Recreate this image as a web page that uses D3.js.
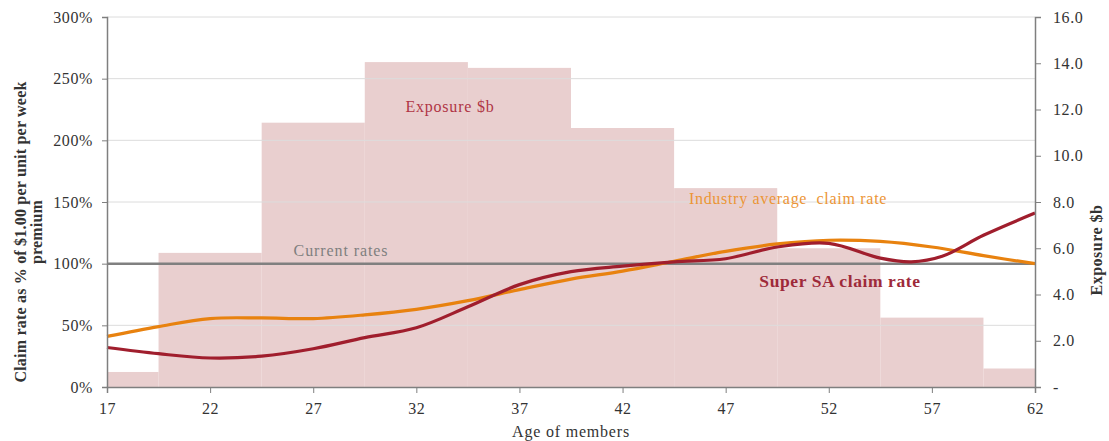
<!DOCTYPE html>
<html>
<head>
<meta charset="utf-8">
<script src="https://cdn.jsdelivr.net/npm/d3@7"></script>
<style>
  html, body { margin: 0; padding: 0; background: #fff; }
  svg { display: block; font-family: "Liberation Serif", "DejaVu Serif", serif; }
</style>
</head>
<body>
<svg id="chart" width="1109" height="441"></svg>
<script>
// Exposure ($b) by 5-year age band, centred on each tick age
const bandAges = [17, 22, 27, 32, 37, 42, 47, 52, 57, 62];
const exposure = [0.65, 5.8, 11.43, 14.05, 13.8, 11.2, 8.6, 6.0, 3.0, 0.8];

// Claim rates as % of current premium
const superAges = [17, 19.5, 22, 24.5, 27, 29.5, 32, 34.5, 37, 39.5, 42, 44.5, 47, 49.5, 52, 54.5, 56, 57.5, 59.5, 62];
const superRate = [32, 27, 23.5, 25, 31, 40, 48, 65, 83, 93.5, 98, 101.5, 104, 113.5, 116.5, 104.5, 101.5, 106, 123, 141];

const industryAges = [17, 19.5, 22, 24.5, 27, 29.5, 32, 34.5, 37, 39.5, 42, 44.5, 47, 49.5, 52, 54.5, 57, 59.5, 62];
const industryRate = [41, 49, 55.5, 56, 55.5, 58.5, 63, 70, 79, 87.5, 94, 102, 110, 116, 119, 118, 113.5, 106.5, 100];

const currentRate = 100;

const xTicks = [17, 22, 27, 32, 37, 42, 47, 52, 57, 62];
const leftTicks = [0, 50, 100, 150, 200, 250, 300];
const rightTicks = [0, 2, 4, 6, 8, 10, 12, 14, 16];

const svg = d3.select("#chart");
const m = { left: 107, right: 1035, top: 17, bottom: 387 };

const x = d3.scaleLinear().domain([17, 62]).range([m.left, m.right]);
const yL = d3.scaleLinear().domain([0, 300]).range([m.bottom, m.top]);
const yR = d3.scaleLinear().domain([0, 16]).range([m.bottom, m.top]);

// exposure bars
svg.append("g").selectAll("rect").data(bandAges).join("rect")
  .attr("x", (d) => x(Math.max(17, d - 2.5)))
  .attr("width", (d) => x(Math.min(62, d + 2.5)) - x(Math.max(17, d - 2.5)))
  .attr("y", (d, i) => yR(exposure[i]))
  .attr("height", (d, i) => yR(0) - yR(exposure[i]))
  .attr("fill", "#e9cfcf");

// gridlines on the left scale
svg.append("g").selectAll("line").data(leftTicks.filter((t) => t > 0)).join("line")
  .attr("x1", m.left).attr("x2", m.right)
  .attr("y1", (d) => yL(d)).attr("y2", (d) => yL(d))
  .attr("stroke", "#dcdcdc").attr("stroke-width", 1);

// current rates reference line
svg.append("line")
  .attr("x1", m.left).attr("x2", m.right)
  .attr("y1", yL(currentRate)).attr("y2", yL(currentRate))
  .attr("stroke", "#808080").attr("stroke-width", 2.5);

const line = (ages) => d3.line()
  .x((d, i) => x(ages[i]))
  .y((d) => yL(d))
  .curve(d3.curveCatmullRom.alpha(0.5));

svg.append("path").datum(industryRate)
  .attr("d", line(industryAges))
  .attr("fill", "none").attr("stroke", "#e8820f").attr("stroke-width", 3.2);

svg.append("path").datum(superRate)
  .attr("d", line(superAges))
  .attr("fill", "none").attr("stroke", "#a01e2d").attr("stroke-width", 3.2);

// axes
const axisStyle = (g) => {
  g.selectAll(".domain").attr("stroke", "#7f7f7f").attr("stroke-width", 1.5);
  g.selectAll(".tick line").attr("stroke", "#7f7f7f");
  g.selectAll(".tick text").attr("fill", "#333").attr("font-size", 16)
    .attr("letter-spacing", 0.6)
    .attr("font-family", "Liberation Serif, serif");
};

svg.append("g").attr("transform", `translate(${m.left},0)`)
  .call(d3.axisLeft(yL).tickValues(leftTicks).tickFormat((d) => d + "%").tickSize(5).tickPadding(9))
  .call(axisStyle);

svg.append("g").attr("transform", `translate(${m.right},0)`)
  .call(d3.axisRight(yR).tickValues(rightTicks)
    .tickFormat((d) => (d === 0 ? "-" : d3.format(".1f")(d))).tickSize(6).tickPadding(12))
  .call(axisStyle);

svg.append("g").attr("transform", `translate(0,${m.bottom})`)
  .call(d3.axisBottom(x).tickValues(xTicks).tickFormat(d3.format("d")).tickSize(6).tickPadding(10))
  .call(axisStyle);

// axis titles
svg.append("text")
  .attr("transform", "translate(26,232) rotate(-90)")
  .attr("text-anchor", "middle").attr("font-size", 16).attr("font-weight", "bold").attr("fill", "#333")
  .attr("letter-spacing", 0.2)
  .text("Claim rate as % of $1.00 per unit per week");
svg.append("text")
  .attr("transform", "translate(42,232) rotate(-90)")
  .attr("text-anchor", "middle").attr("font-size", 16).attr("font-weight", "bold").attr("fill", "#333")
  .attr("letter-spacing", 0.2)
  .text("premium");
svg.append("text")
  .attr("transform", "translate(1102,250) rotate(-90)")
  .attr("text-anchor", "middle").attr("font-size", 16).attr("font-weight", "bold").attr("fill", "#333")
  .attr("letter-spacing", 0.5)
  .text("Exposure $b");
svg.append("text")
  .attr("x", (m.left + m.right) / 2).attr("y", 437)
  .attr("text-anchor", "middle").attr("font-size", 16).attr("fill", "#333")
  .attr("letter-spacing", 0.8)
  .text("Age of members");

// series labels
svg.append("text").attr("x", 450).attr("y", 112).attr("text-anchor", "middle")
  .attr("font-size", 16).attr("letter-spacing", 0.8).attr("fill", "#b03545").text("Exposure $b");
svg.append("text").attr("x", 341).attr("y", 256).attr("text-anchor", "middle")
  .attr("font-size", 16).attr("letter-spacing", 0.9).attr("fill", "#7f7f7f").text("Current rates");
svg.append("text").attr("x", 788).attr("y", 204).attr("text-anchor", "middle")
  .attr("font-size", 16).attr("letter-spacing", 0.7).attr("fill", "#ec9536").attr("xml:space", "preserve")
  .text("Industry average  claim rate");
svg.append("text").attr("x", 840).attr("y", 287).attr("text-anchor", "middle")
  .attr("font-size", 17.5).attr("letter-spacing", 0.6).attr("font-weight", "bold").attr("fill", "#9e2a3a")
  .text("Super SA claim rate");
</script>
</body>
</html>
